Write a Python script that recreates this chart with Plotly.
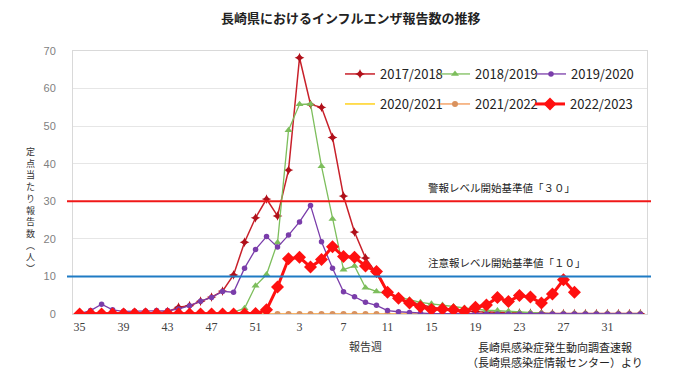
import plotly.graph_objects as go

weeks = ["35", "36", "37", "38", "39", "40", "41", "42", "43", "44", "45", "46",
         "47", "48", "49", "50", "51", "52", "1", "2", "3", "4", "5", "6", "7",
         "8", "9", "10", "11", "12", "13", "14", "15", "16", "17", "18", "19",
         "20", "21", "22", "23", "24", "25", "26", "27", "28", "29", "30", "31",
         "32", "33", "34"]
tick_weeks = ["35", "39", "43", "47", "51", "3", "7", "11", "15", "19", "23", "27", "31"]

s1718 = [0.2, 0.2, 0.3, 0.2, 0.3, 0.3, 0.4, 0.4, 0.6, 1.8, 2.2, 3.4, 4.5, 6.1, 10.4, 19.1, 25.6, 30.6,
         26.1, 38.3, 68.2, 55.8, 55.0, 47.0, 31.4, 21.8, 14.9, 10.8, 5.8, 4.0, 3.2, 2.4, 1.8, 1.4,
         1.0, 0.8, 0.6, 0.5, 0.4, 0.3, 0.3, 0.2, 0.2, 0.1, 0.1, 0.1, 0.1, 0.1, 0.1, 0.1, 0.1, 0.1]
s1819 = [0.1, 0.1, 0.1, 0.1, 0.1, 0.1, 0.1, 0.1, 0.1, 0.1, 0.1, 0.1, 0.1, 0.2, 0.5, 1.5, 7.5, 10.5,
         19.0, 48.9, 55.8, 55.9, 39.3, 25.3, 11.8, 12.8, 7.0, 6.0, 5.3, 4.6, 3.8, 3.1, 2.7, 2.4,
         2.0, 1.6, 1.3, 1.0, 0.9, 0.7, 0.4, 0.3, 0.2, 0.1, 0.1, 0.1, 0.1, 0.1, 0.1, 0.1, 0.1, 0.1]
s1920 = [0.1, 0.9, 2.6, 1.1, 0.7, 0.7, 0.8, 0.9, 0.9, 1.3, 2.2, 3.4, 4.4, 6.0, 5.8, 12.2, 17.2, 20.6,
         17.8, 21.0, 24.5, 28.9, 19.2, 12.2, 5.9, 4.6, 3.1, 2.3, 0.9, 0.6, 0.4, 0.2, 0.1, 0.1,
         0.1, 0.0, 0.0, 0.0, 0.0, 0.0, 0.0, 0.0, 0.0, 0.0, 0.0, 0.0, 0.0, 0.0, 0.0, 0.0, 0.0, 0.0]
s2021 = [0, 0, 0, 0, 0, 0, 0, 0, 0, 0, 0, 0, 0, 0, 0, 0, 0, 0,
         0, 0, 0, 0, 0, 0, 0, 0, 0, 0, 0, 0, 0, 0, 0, 0,
         0, 0, 0, 0, 0, 0, 0, 0, 0, 0, 0, 0, 0, 0, 0, 0, 0, 0]
s2122 = [0, 0, 0, 0, 0, 0, 0, 0, 0, 0, 0, 0, 0, 0, 0, 0, 0, 0,
         0, 0, 0, 0, 0, 0, 0, 0, 0, 0, 0, 0, 0, 0, 0, 0,
         0, 0, 0, 0, 0, 0, 0, 0, 0, 0, 0, 0, 0, 0, 0, 0, 0, 0]
s2223 = [0, 0, 0, 0, 0, 0, 0, 0, 0, 0, 0, 0, 0, 0, 0, 0, 0.1, 1.1,
         7.2, 14.7, 15.1, 12.5, 14.5, 17.9, 15.3, 15.1, 12.8, 11.3, 5.8, 4.2, 2.9, 1.9, 1.2, 1.3,
         1.1, 0.7, 1.8, 2.4, 4.4, 3.3, 4.9, 4.5, 2.9, 5.3, 9.1, 5.8, None, None, None, None, None, None]

alarm_level = 30
warn_level = 10

# plot area in pixels: x 73..647, y 51..314
L, R, T, B = 73, 33, 51, 68
W, H = 680, 382
PW, PH = W - L - R, H - T - B


def px(x):
    return (x - L) / PW


def py(y):
    return (H - B - y) / PH


fig = go.Figure()

jp = "Noto Sans CJK JP"

fig.add_trace(go.Scatter(x=weeks, y=s2021, name="2020/2021", mode="lines",
                         line=dict(color="#FFD21F", width=1.5), legend="legend4"))
fig.add_trace(go.Scatter(x=weeks, y=s2122, name="2021/2022", mode="lines+markers",
                         line=dict(color="#F4A46A", width=1.5),
                         marker=dict(symbol="circle", size=6, color="#D9925E"), legend="legend5"))
fig.add_trace(go.Scatter(x=weeks, y=s1718, name="2017/2018", mode="lines+markers",
                         line=dict(color="#C8202A", width=1.5),
                         marker=dict(symbol="star-diamond", size=7, color="#B0101A"), legend="legend"))
fig.add_trace(go.Scatter(x=weeks, y=s1819, name="2018/2019", mode="lines+markers",
                         line=dict(color="#7DBE5C", width=1.3),
                         marker=dict(symbol="triangle-up", size=7, color="#7DBE5C"), legend="legend2"))
fig.add_trace(go.Scatter(x=weeks, y=s1920, name="2019/2020", mode="lines+markers",
                         line=dict(color="#7A3DAA", width=1.3),
                         marker=dict(symbol="circle", size=5.5, color="#7A3DAA"), legend="legend3"))
fig.add_trace(go.Scatter(x=weeks, y=s2223, name="2022/2023", mode="lines+markers",
                         line=dict(color="#FF1010", width=3),
                         marker=dict(symbol="diamond", size=10, color="#FF1010"), legend="legend6"))

fig.add_shape(type="line", xref="paper", yref="y", x0=px(67), x1=px(651),
              y0=alarm_level, y1=alarm_level, line=dict(color="#F01818", width=2), layer="above")
fig.add_shape(type="line", xref="paper", yref="y", x0=px(67), x1=px(651),
              y0=warn_level, y1=warn_level, line=dict(color="#1F7BC4", width=2), layer="above")

legfont = dict(family=jp, size=13, color="#222222")
leg_common = dict(xanchor="left", yanchor="middle", bgcolor="rgba(0,0,0,0)",
                  font=legfont, itemwidth=30)
fig.update_layout(
    showlegend=True,
    legend=dict(x=px(340), y=py(74), **leg_common),
    legend2=dict(x=px(435), y=py(74), **leg_common),
    legend3=dict(x=px(531), y=py(74), **leg_common),
    legend4=dict(x=px(340), y=py(104), **leg_common),
    legend5=dict(x=px(435), y=py(104), **leg_common),
    legend6=dict(x=px(530), y=py(104), **leg_common),
)

ann = []
ann.append(dict(text="<b>長崎県におけるインフルエンザ報告数の推移</b>", x=px(351), y=py(18),
                xref="paper", yref="paper", showarrow=False, xanchor="center", yanchor="middle",
                font=dict(family=jp, size=13, color="#222222")))
ylabel = "定点当たり報告数︵人︶"
ann.append(dict(text="<br>".join(list(ylabel)), x=px(30), y=py(210),
                xref="paper", yref="paper", showarrow=False, xanchor="center", yanchor="middle",
                font=dict(family=jp, size=9, color="#333333")))
ann.append(dict(text="報告週", x=px(365), y=py(346), xref="paper", yref="paper",
                showarrow=False, xanchor="center", yanchor="middle",
                font=dict(family=jp, size=11, color="#333333")))
ann.append(dict(text="長崎県感染症発生動向調査速報", x=px(555), y=py(347), xref="paper", yref="paper",
                showarrow=False, xanchor="center", yanchor="middle",
                font=dict(family=jp, size=11, color="#222222")))
ann.append(dict(text="（長崎県感染症情報センター）より", x=px(555), y=py(362), xref="paper", yref="paper",
                showarrow=False, xanchor="center", yanchor="middle",
                font=dict(family=jp, size=11, color="#222222")))
ann.append(dict(text="警報レベル開始基準値「３０」", x=px(426), y=py(187), xref="paper", yref="paper",
                showarrow=False, xanchor="left", yanchor="middle",
                font=dict(family=jp, size=10.5, color="#222222")))
ann.append(dict(text="注意報レベル開始基準値「１０」", x=px(426), y=py(262), xref="paper", yref="paper",
                showarrow=False, xanchor="left", yanchor="middle",
                font=dict(family=jp, size=10.5, color="#222222")))

fig.update_layout(
    width=W, height=H,
    margin=dict(l=L, r=R, t=T, b=B),
    plot_bgcolor="white", paper_bgcolor="white",
    annotations=ann,
    xaxis=dict(type="category", categoryorder="array", categoryarray=weeks,
               range=[-0.6, 51.6], tickmode="array", tickvals=tick_weeks, ticktext=tick_weeks,
               showgrid=False, showline=True, linecolor="#D9D9D9", linewidth=1, mirror=True,
               ticks="outside", ticklen=2, tickcolor="rgba(0,0,0,0)",
               tickfont=dict(family="Liberation Serif", size=12, color="#404040"), zeroline=False),
    yaxis=dict(range=[0, 70], dtick=10, tick0=0, showgrid=True, gridcolor="#E6E6E6", gridwidth=1,
               showline=True, linecolor="#D9D9D9", linewidth=1, mirror=True, zeroline=False,
               ticks="outside", ticklen=14, tickcolor="rgba(0,0,0,0)",
               tickfont=dict(family="Liberation Sans", size=11, color="#7F7F7F")),
)

fig.write_html("out.html", config={"displayModeBar": False},
               post_script="document.body.style.margin='0px';")
